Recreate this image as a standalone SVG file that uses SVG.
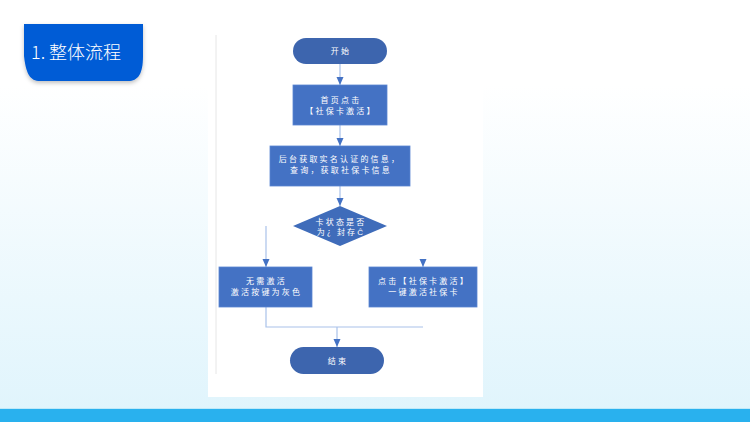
<svg xmlns="http://www.w3.org/2000/svg" width="750" height="422" viewBox="0 0 750 422">
<defs>
<linearGradient id="bg" x1="0" y1="0" x2="0" y2="1">
<stop offset="0" stop-color="#FFFFFF"/>
<stop offset="0.2" stop-color="#FFFFFF"/>
<stop offset="1" stop-color="#DFF4FC"/>
</linearGradient>
<filter id="sh" x="-20%" y="-20%" width="140%" height="150%">
<feDropShadow dx="0" dy="2" stdDeviation="2" flood-color="#000" flood-opacity="0.25"/>
</filter>
<marker id="ar" markerUnits="userSpaceOnUse" markerWidth="9" markerHeight="8" refX="8" refY="3.5" orient="auto">
<path d="M0,0 L8,3.5 L0,7 z" fill="#4472C4"/>
</marker>
<style>
.t{font-family:"Noto Sans CJK SC","Liberation Sans",sans-serif;font-size:8px;fill:#FFFFFF;text-anchor:middle;letter-spacing:2.2px}
.pill{fill:#3D65AE}
.box{fill:#4472C4;stroke:#5A86D2;stroke-width:0.8}
.dia{fill:#3F6CBA}
.c{fill:none;stroke:#A9C2EA;stroke-width:1.2}
</style>
</defs>
<rect x="0" y="0" width="750" height="422" fill="url(#bg)"/>
<rect x="0" y="408" width="750" height="1.2" fill="#BFE9F9"/>
<rect x="0" y="409" width="750" height="13" fill="#29B1EE"/>

<g id="header">
<path d="M24,24 H143 V56 C143,74 138,81 128,81 H40 C30,81 26,74 24,56 Z" fill="#005CD6" filter="url(#sh)"/>
<text x="31" y="59" font-family="Noto Sans CJK SC,Liberation Sans,sans-serif" font-size="18" font-weight="300" fill="#FFFFFF">1. 整体流程</text>
</g>

<g id="panel">
<rect x="208" y="35" width="275" height="362" fill="#FFFFFF"/>
<line x1="216" y1="35" x2="216" y2="374" stroke="#E6E6E6" stroke-width="1"/>
</g>

<g id="connectors">
<path class="c" d="M340,64 V85" marker-end="url(#ar)"/>
<path class="c" d="M340,125 V146" marker-end="url(#ar)"/>
<path class="c" d="M340,186 V206" marker-end="url(#ar)"/>
<path class="c" d="M266,226 V267" marker-end="url(#ar)"/>
<path class="c" d="M423,259 V267" marker-end="url(#ar)"/>
<path class="c" d="M266,307 V327 H423"/>
<path class="c" d="M337,327 V347" stroke-width="1.8" marker-end="url(#ar)"/>
</g>

<g id="start">
<rect class="pill" x="293" y="38" width="94" height="26" rx="13"/>
<text class="t" x="341" y="54">开始</text>
</g>

<g id="step1">
<rect class="box" x="293" y="85" width="94" height="40"/>
<text class="t" x="341" y="103">首页点击</text>
<text class="t" x="341" y="114">【社保卡激活】</text>
</g>

<g id="step2">
<rect class="box" x="270" y="146" width="140" height="40"/>
<text class="t" x="340" y="161.5">后台获取实名认证的信息，</text>
<text class="t" x="341" y="173">查询，获取社保卡信息</text>
</g>

<g id="decision">
<polygon class="dia" points="340,206 387,226 340,246 293,226"/>
<text class="t" x="341" y="224.5">卡状态是否</text>
<text class="t" x="341" y="235">为¿ 封存Ĉ</text>
</g>

<g id="inactive">
<rect class="box" x="219" y="267" width="93" height="40"/>
<text class="t" x="266.5" y="283.5">无需激活</text>
<text class="t" x="266.5" y="294.5">激活按键为灰色</text>
</g>

<g id="activate">
<rect class="box" x="369" y="267" width="108" height="40"/>
<text class="t" x="424" y="283.5">点击【社保卡激活】</text>
<text class="t" x="424" y="294.5">一键激活社保卡</text>
</g>

<g id="end">
<rect class="pill" x="290" y="347" width="94" height="27" rx="13.5"/>
<text class="t" x="338" y="363.5">结束</text>
</g>
</svg>
